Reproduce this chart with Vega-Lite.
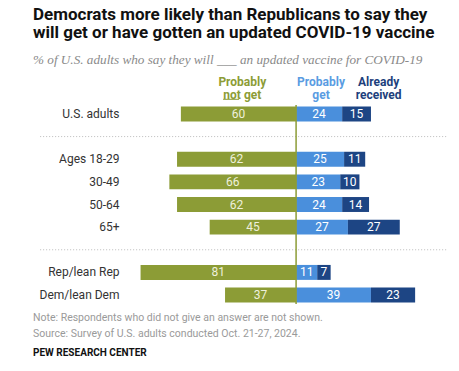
{
  "$schema": "https://vega.github.io/schema/vega-lite/v6.json",
  "width": 317,
  "height": 249,
  "autosize": {"type": "none"},
  "padding": {"left": 130, "top": 80, "right": 12, "bottom": 42},
  "background": "white",
  "config": {"view": {"stroke": null}, "font": "Roboto"},
  "title": {
    "text": ["Democrats more likely than Republicans to say they", "will get or have gotten an updated COVID-19 vaccine"],
    "subtitle": "% of U.S. adults who say they will ___ an updated vaccine for COVID-19",
    "anchor": "start",
    "frame": "group",
    "dx": -97,
    "font": "Roboto",
    "fontSize": 17,
    "fontWeight": "bold",
    "color": "#111111",
    "lineHeight": 18,
    "subtitleFont": "Liberation Serif",
    "subtitleFontStyle": "italic",
    "subtitleFontSize": 13.2,
    "subtitleColor": "#8a8a8a",
    "subtitlePadding": 12,
    "offset": 9
  },
  "data": {
    "values": [
      {"g": "U.S. adults", "notget": 60, "get": 24, "already": 15},
      {"g": "Ages 18-29", "notget": 62, "get": 25, "already": 11},
      {"g": "30-49", "notget": 66, "get": 23, "already": 10},
      {"g": "50-64", "notget": 62, "get": 24, "already": 14},
      {"g": "65+", "notget": 45, "get": 27, "already": 27},
      {"g": "Rep/lean Rep", "notget": 81, "get": 11, "already": 7},
      {"g": "Dem/lean Dem", "notget": 37, "get": 39, "already": 23}
    ]
  },
  "transform": [
    {"calculate": "-datum.notget", "as": "lo"},
    {"calculate": "0", "as": "base"},
    {"calculate": "-datum.notget / 2", "as": "mid0"},
    {"calculate": "datum.get / 2", "as": "mid1"},
    {"calculate": "datum.get + datum.already", "as": "tot"},
    {"calculate": "datum.get + datum.already / 2", "as": "mid2"}
  ],
  "encoding": {
    "y": {
      "field": "g",
      "type": "nominal",
      "title": null,
      "scale": {
        "domain": ["hdr", "U.S. adults", "sep1", "Ages 18-29", "30-49", "50-64", "65+", "sep2", "Rep/lean Rep", "Dem/lean Dem", "foot"],
        "paddingInner": 0.34,
        "paddingOuter": 0.17
      },
      "axis": {
        "domain": false,
        "ticks": false,
        "labelPadding": 11,
        "labelFont": "Roboto",
        "labelFontSize": 12,
        "labelColor": "#333333",
        "labelExpr": "indexof(['hdr','sep1','sep2','foot'], datum.value) >= 0 ? '' : datum.value"
      }
    }
  },
  "layer": [
    {
      "mark": {"type": "bar", "color": "#8c9c36"},
      "encoding": {
        "x": {"field": "lo", "type": "quantitative", "scale": {"domain": [-86.5, 78.6], "nice": false, "zero": false}, "axis": null},
        "x2": {"field": "base"}
      }
    },
    {
      "mark": {"type": "bar", "color": "#4a8fdc"},
      "encoding": {
        "x": {"field": "base", "type": "quantitative", "axis": null},
        "x2": {"field": "get"}
      }
    },
    {
      "mark": {"type": "bar", "color": "#1d4584"},
      "encoding": {
        "x": {"field": "get", "type": "quantitative", "axis": null},
        "x2": {"field": "tot"}
      }
    },
    {
      "mark": {"type": "text", "fontSize": 12, "color": "#eef0dc"},
      "encoding": {
        "x": {"field": "mid0", "type": "quantitative", "axis": null},
        "text": {"field": "notget", "type": "quantitative"}
      }
    },
    {
      "mark": {"type": "text", "fontSize": 12, "color": "#ffffff"},
      "encoding": {
        "x": {"field": "mid1", "type": "quantitative", "axis": null},
        "text": {"field": "get", "type": "quantitative"}
      }
    },
    {
      "mark": {"type": "text", "fontSize": 12, "color": "#ffffff"},
      "encoding": {
        "x": {"field": "mid2", "type": "quantitative", "axis": null},
        "text": {"field": "already", "type": "quantitative"}
      }
    },
    {
      "data": {"values": [{"s": "sep1"}, {"s": "sep2"}]},
      "mark": {"type": "rule", "color": "#bbbbbb", "strokeDash": [1, 2], "strokeWidth": 1},
      "encoding": {
        "y": {"field": "s", "type": "nominal"},
        "x": {"datum": -133.3, "type": "quantitative", "axis": null},
        "x2": {"datum": 78.6}
      }
    },
    {
      "data": {"values": [{}]},
      "mark": {"type": "rule", "color": "#8c9c36", "strokeWidth": 1.5, "yOffset": -9, "y2Offset": 9},
      "encoding": {
        "x": {"datum": 0, "type": "quantitative", "axis": null},
        "y": {"datum": "U.S. adults", "type": "nominal"},
        "y2": {"datum": "Dem/lean Dem"}
      }
    },
    {
      "data": {"values": [{}]},
      "mark": {"type": "text", "text": ["Probably", "not get"], "fontSize": 12, "fontWeight": "bold", "color": "#8c9c36", "lineHeight": 13, "baseline": "middle", "dy": -9.5},
      "encoding": {
        "x": {"datum": -28, "type": "quantitative", "axis": null},
        "y": {"datum": "hdr", "type": "nominal"}
      }
    },
    {
      "data": {"values": [{}]},
      "mark": {"type": "rule", "color": "#8c9c36", "strokeWidth": 1, "yOffset": 8},
      "encoding": {
        "x": {"datum": -38, "type": "quantitative", "axis": null},
        "x2": {"datum": -29.7},
        "y": {"datum": "hdr", "type": "nominal"}
      }
    },
    {
      "data": {"values": [{}]},
      "mark": {"type": "text", "text": ["Probably", "get"], "fontSize": 12, "fontWeight": "bold", "color": "#5a9ce2", "lineHeight": 13, "baseline": "middle", "dy": -9.5},
      "encoding": {
        "x": {"datum": 13, "type": "quantitative", "axis": null},
        "y": {"datum": "hdr", "type": "nominal"}
      }
    },
    {
      "data": {"values": [{}]},
      "mark": {"type": "text", "text": ["Already", "received"], "fontSize": 12, "fontWeight": "bold", "color": "#1d3f7c", "lineHeight": 13, "baseline": "middle", "dy": -9.5},
      "encoding": {
        "x": {"datum": 43, "type": "quantitative", "axis": null},
        "y": {"datum": "hdr", "type": "nominal"}
      }
    },
    {
      "data": {"values": [{}]},
      "mark": {"type": "text", "text": ["Note: Respondents who did not give an answer are not shown.", "Source: Survey of U.S. adults conducted Oct. 21-27, 2024."], "fontSize": 10.5, "color": "#9a9a9a", "lineHeight": 16, "align": "left", "baseline": "middle", "dy": 0},
      "encoding": {
        "x": {"datum": -137, "type": "quantitative", "axis": null},
        "y": {"datum": "foot", "type": "nominal"}
      }
    },
    {
      "data": {"values": [{}]},
      "mark": {"type": "text", "text": "PEW RESEARCH CENTER", "fontSize": 10, "fontWeight": "bold", "color": "#111111", "align": "left", "baseline": "middle", "dy": 35},
      "encoding": {
        "x": {"datum": -137, "type": "quantitative", "axis": null},
        "y": {"datum": "foot", "type": "nominal"}
      }
    }
  ]
}
